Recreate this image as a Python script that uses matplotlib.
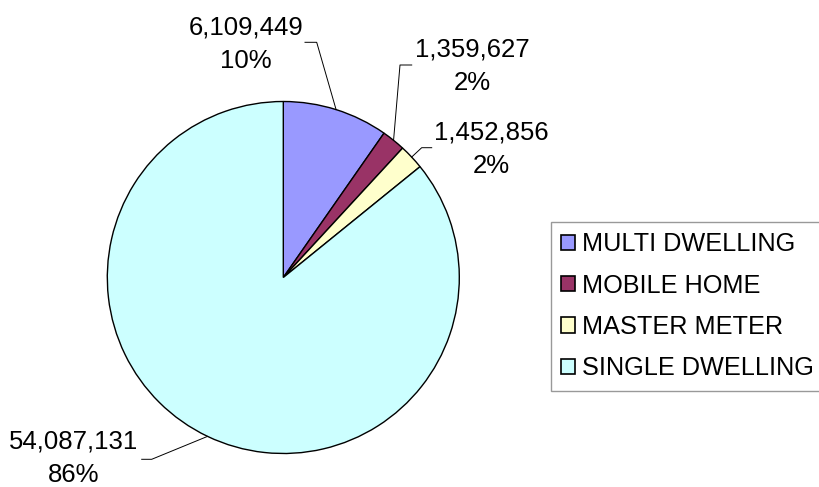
import numpy as np
import matplotlib
matplotlib.use("Agg")
import matplotlib.pyplot as plt
from matplotlib.patches import Rectangle

categories = ["MULTI DWELLING", "MOBILE HOME", "MASTER METER", "SINGLE DWELLING"]
values = [6109449, 1359627, 1452856, 54087131]
pct_labels = ["10%", "2%", "2%", "86%"]
colors = ["#9999FF", "#993366", "#FFFFCC", "#CCFFFF"]

plt.rcParams['font.family'] = ['Liberation Sans', 'DejaVu Sans']

W, H = 819, 487
fig = plt.figure(figsize=(W / 100, H / 100), dpi=100)
fig.patch.set_facecolor('white')

cx, cy, R = 283.3, 277.5, 176.0
ax = fig.add_axes([(cx - R) / W, (H - (cy + R)) / H, 2 * R / W, 2 * R / H])

wedges, _ = ax.pie(values, colors=colors, startangle=90, counterclock=False,
                   radius=1, wedgeprops=dict(edgecolor='black', linewidth=1.0))
ax.set_xlim(-1, 1)
ax.set_ylim(-1, 1)
ax.set_aspect('equal')
ax.axis('off')
for w in wedges:
    w.set_clip_on(False)

def px2d(px, py):
    return (px - cx) / R, (cy - py) / R

# layout: text centre (px), elbow point, horizontal end point
text_pos = [(246, 44.5), (472, 66), (491, 149.5), (74, 458.5)]
elbow = [(316.7, 42.3), (400, 65), (421.7, 147.7), (151.7, 459.3)]
hend = [(305, 42.3), (411.7, 65), (431.7, 147.7), (141.7, 459.3)]

for i, w in enumerate(wedges):
    mid = np.deg2rad((w.theta1 + w.theta2) / 2)
    ex, ey = np.cos(mid), np.sin(mid)
    bx, by = px2d(*elbow[i])
    hx, hy = px2d(*hend[i])
    ax.plot([ex, bx, hx], [ey, by, hy], color='black', lw=0.7, clip_on=False)
    tx, ty = px2d(*text_pos[i])
    ax.text(tx, ty, f"{values[i]:,}\n{pct_labels[i]}", ha='center', va='center',
            fontsize=18.5, linespacing=1.5, color='black', clip_on=False)

handles = [Rectangle((0, 0), 1, 1, facecolor=c, edgecolor='black', linewidth=1.2)
           for c in colors]
leg = fig.legend(handles, categories, loc='upper left',
                 bbox_to_anchor=(550.7 / W, 1 - 222 / H), fontsize=18.2,
                 frameon=True, fancybox=False, shadow=False,
                 handlelength=0.55, handleheight=0.55, handletextpad=0.3,
                 labelspacing=0.69, borderpad=0.4, borderaxespad=0)
leg.get_frame().set_edgecolor('#808080')
leg.get_frame().set_linewidth(1.0)

fig.savefig('out.png', dpi=100)
